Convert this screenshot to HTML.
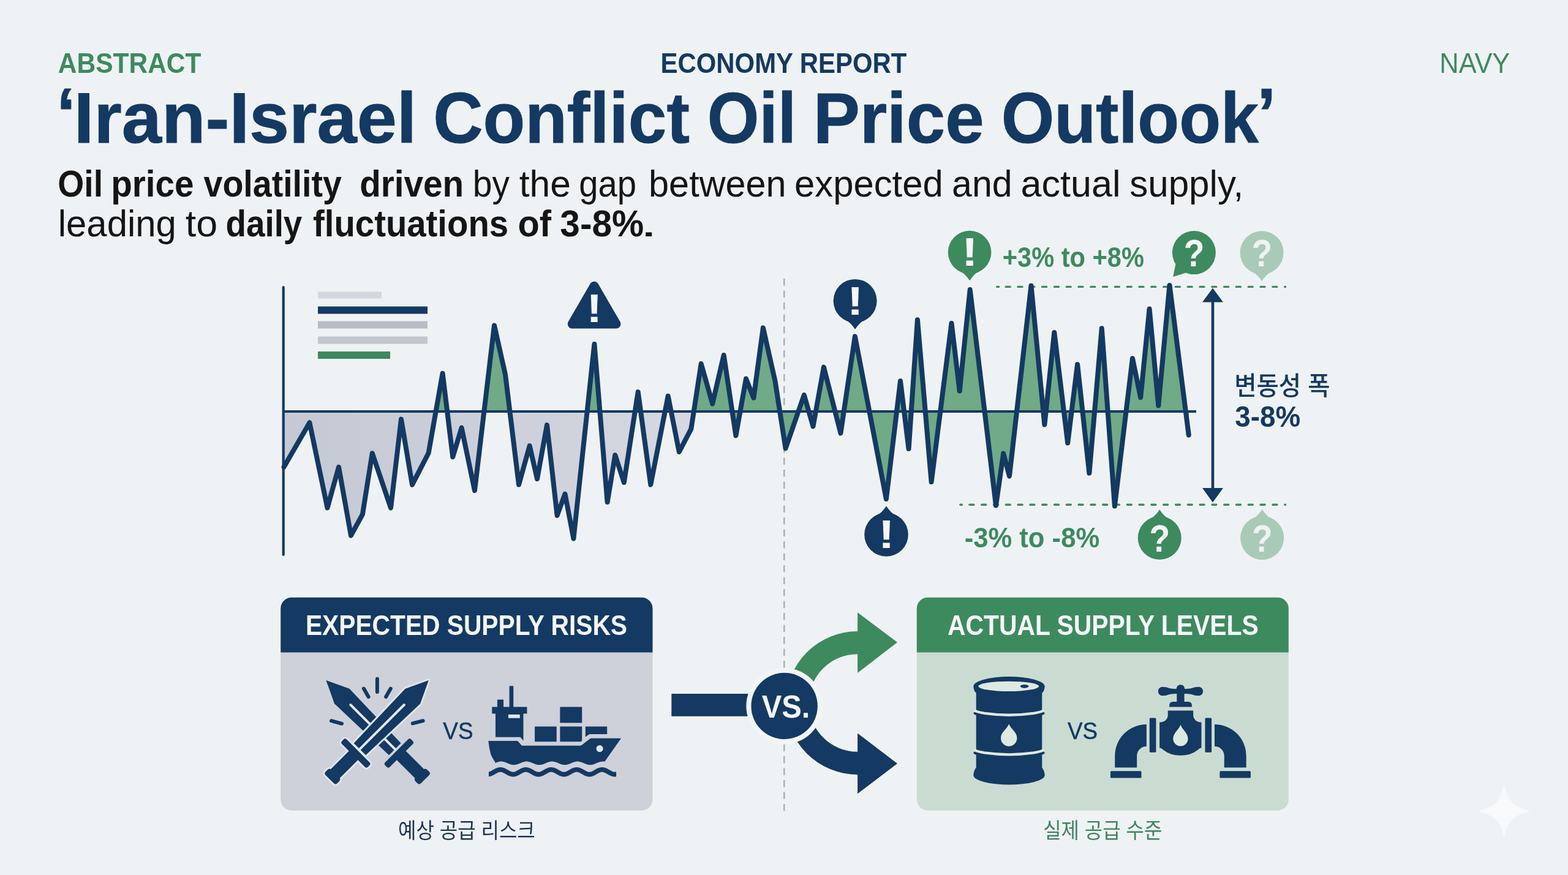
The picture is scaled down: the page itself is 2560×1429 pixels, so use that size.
<!DOCTYPE html>
<html lang="en">
<head>
<meta charset="utf-8">
<title>Iran-Israel Conflict Oil Price Outlook</title>
<style>
html,body{margin:0;padding:0;background:#eff2f4;}
body{width:2560px;height:1429px;overflow:hidden;font-family:"Liberation Sans","Noto Sans CJK KR",sans-serif;}
svg{display:block;position:absolute;left:0;top:0;}
text{font-family:"Liberation Sans","Noto Sans CJK KR",sans-serif;white-space:pre;}
.kr{font-family:"Liberation Sans","Noto Sans CJK KR","NanumGothic",sans-serif;}
</style>
</head>
<body>
<svg width="2560" height="1429" viewBox="0 0 2560 1429">
<defs>
<clipPath id="cGray"><rect x="455" y="672" width="680" height="260"/></clipPath>
<clipPath id="cGreen"><path d="M455,440 H1960 V900 H1135 V672 H455 Z"/></clipPath>
<linearGradient id="gGray" gradientUnits="userSpaceOnUse" x1="462" y1="0" x2="1135" y2="0">
<stop offset="0" stop-color="#c5c9d4"/><stop offset="0.55" stop-color="#cdd0da"/><stop offset="1" stop-color="#d6d9e1"/>
</linearGradient>
</defs>
<rect width="2560" height="1429" fill="#eff2f4"/>

<g id="header">
<text x="94.85" y="118.7" font-size="47" font-weight="700" fill="#3d8a5f" textLength="233.59" lengthAdjust="spacingAndGlyphs">ABSTRACT</text>
<text x="1078.55" y="118.5" font-size="46.5" font-weight="700" fill="#143962" textLength="401.85" lengthAdjust="spacingAndGlyphs">ECONOMY REPORT</text>
<text x="2350.37" y="118.5" font-size="46.5" font-weight="400" fill="#3d8a5f" textLength="114.94" lengthAdjust="spacingAndGlyphs">NAVY</text>
<text font-size="117" fill="#143962" stroke="#143962" stroke-width="1" stroke-linejoin="round"><tspan x="92.25" y="226" font-weight="700" textLength="31.5" lengthAdjust="spacingAndGlyphs">‘</tspan><tspan x="120.75" y="233" font-weight="700" textLength="559.55" lengthAdjust="spacingAndGlyphs">Iran-Israel</tspan> <tspan x="707.19" y="233" font-weight="700" textLength="418.69" lengthAdjust="spacingAndGlyphs">Conflict</tspan> <tspan x="1154.85" y="233" font-weight="700" textLength="145.12" lengthAdjust="spacingAndGlyphs">Oil</tspan> <tspan x="1327.7" y="233" font-weight="700" textLength="278.91" lengthAdjust="spacingAndGlyphs">Price</tspan> <tspan x="1634.75" y="233" font-weight="700" textLength="420.21" lengthAdjust="spacingAndGlyphs">Outlook</tspan><tspan x="2052.35" y="226" font-weight="700" textLength="31.08" lengthAdjust="spacingAndGlyphs">’</tspan></text>
<text font-size="60.5" fill="#151515"><tspan x="94.26" y="321.25" font-weight="700" textLength="73.78" lengthAdjust="spacingAndGlyphs">Oil</tspan> <tspan x="181.26" y="321.25" font-weight="700" textLength="135.25" lengthAdjust="spacingAndGlyphs">price</tspan> <tspan x="332.5" y="321.25" font-weight="700" textLength="225.4" lengthAdjust="spacingAndGlyphs">volatility</tspan> <tspan x="587.19" y="321.25" font-weight="700" textLength="169.89" lengthAdjust="spacingAndGlyphs">driven</tspan> <tspan x="771.73" y="321.25" font-weight="400" textLength="60.18" lengthAdjust="spacingAndGlyphs">by</tspan> <tspan x="847.75" y="321.25" font-weight="400" textLength="84.11" lengthAdjust="spacingAndGlyphs">the</tspan> <tspan x="945.21" y="321.25" font-weight="400" textLength="93.78" lengthAdjust="spacingAndGlyphs">gap</tspan> <tspan x="1059.07" y="321.25" font-weight="400" textLength="224.61" lengthAdjust="spacingAndGlyphs">between</tspan> <tspan x="1297.03" y="321.25" font-weight="400" textLength="242.72" lengthAdjust="spacingAndGlyphs">expected</tspan> <tspan x="1554.07" y="321.25" font-weight="400" textLength="98.54" lengthAdjust="spacingAndGlyphs">and</tspan> <tspan x="1666.47" y="321.25" font-weight="400" textLength="163.03" lengthAdjust="spacingAndGlyphs">actual</tspan> <tspan x="1844.26" y="321.25" font-weight="400" textLength="185.9" lengthAdjust="spacingAndGlyphs">supply,</tspan></text>
<text font-size="60.5" fill="#151515"><tspan x="94.79" y="386.25" font-weight="400" textLength="193.04" lengthAdjust="spacingAndGlyphs">leading</tspan> <tspan x="302.71" y="386.25" font-weight="400" textLength="52.35" lengthAdjust="spacingAndGlyphs">to</tspan> <tspan x="368.54" y="386.25" font-weight="700" textLength="124.76" lengthAdjust="spacingAndGlyphs">daily</tspan> <tspan x="511.07" y="386.25" font-weight="700" textLength="319.06" lengthAdjust="spacingAndGlyphs">fluctuations</tspan> <tspan x="845.59" y="386.25" font-weight="700" textLength="54.51" lengthAdjust="spacingAndGlyphs">of</tspan> <tspan x="914.31" y="386.25" font-weight="700" textLength="136.9" lengthAdjust="spacingAndGlyphs">3-8%</tspan><tspan x="1044.5" y="386.25" font-weight="400" textLength="29.42" lengthAdjust="spacingAndGlyphs">.</tspan></text>
</g>
<g id="chart">
<line x1="1280.3" y1="455" x2="1280.3" y2="1325" stroke="#a8abad" stroke-width="2.3" stroke-dasharray="11.5 8"/>
<rect x="519" y="476.5" width="104" height="11" fill="#d3d6dc"/>
<rect x="519" y="500.5" width="179" height="12" fill="#143962"/>
<rect x="519" y="524.5" width="179" height="12" fill="#b7bbc6"/>
<rect x="519" y="549.5" width="179" height="12" fill="#c3c6cf"/>
<rect x="519" y="574" width="118" height="12" fill="#3d8a5f"/>
<path d="M463.5,672 L463.5,762.7 L505.4,690.3 L534.5,829.4 L553.0,762.8 L573.0,874.6 L591.9,840.0 L607.8,740.2 L638.0,829.4 L655.0,684.6 L673.0,791.6 L699.6,740.0 L722.6,609.8 L739.2,746.3 L753.6,698.6 L775.0,801.1 L807.0,531.4 L825.0,611.6 L847.0,791.6 L864.7,728.1 L877.0,782.2 L893.0,694.1 L909.6,841.9 L922.5,806.7 L936.4,879.6 L970.4,561.9 L991.6,820.0 L1004.3,743.2 L1018.8,787.9 L1041.7,640.1 L1062.3,791.6 L1090.7,646.8 L1108.8,738.0 L1128.4,700.3 L1144.7,594.0 L1163.2,659.4 L1181.7,580.0 L1201.4,711.5 L1218.0,618.5 L1230.4,649.9 L1245.9,535.4 L1265.6,622.9 L1282.6,732.3 L1312.8,645.0 L1327.5,696.4 L1344.9,599.6 L1372.5,707.4 L1395.9,549.4 L1446.9,815.0 L1470.0,622.3 L1483.6,733.1 L1497.9,522.2 L1520.6,787.1 L1553.5,527.9 L1566.7,638.6 L1583.7,473.1 L1626.0,825.6 L1638.2,740.5 L1648.0,777.6 L1683.5,466.6 L1705.4,693.4 L1721.3,543.0 L1743.2,723.6 L1759.1,595.1 L1778.4,772.7 L1798.8,536.2 L1819.9,826.4 L1849.0,585.3 L1862.2,649.2 L1876.6,504.4 L1891.3,662.4 L1909.5,465.9 L1940.8,710.5 L1940.8,672 Z" fill="url(#gGray)" clip-path="url(#cGray)"/>
<path d="M463.5,672 L463.5,762.7 L505.4,690.3 L534.5,829.4 L553.0,762.8 L573.0,874.6 L591.9,840.0 L607.8,740.2 L638.0,829.4 L655.0,684.6 L673.0,791.6 L699.6,740.0 L722.6,609.8 L739.2,746.3 L753.6,698.6 L775.0,801.1 L807.0,531.4 L825.0,611.6 L847.0,791.6 L864.7,728.1 L877.0,782.2 L893.0,694.1 L909.6,841.9 L922.5,806.7 L936.4,879.6 L970.4,561.9 L991.6,820.0 L1004.3,743.2 L1018.8,787.9 L1041.7,640.1 L1062.3,791.6 L1090.7,646.8 L1108.8,738.0 L1128.4,700.3 L1144.7,594.0 L1163.2,659.4 L1181.7,580.0 L1201.4,711.5 L1218.0,618.5 L1230.4,649.9 L1245.9,535.4 L1265.6,622.9 L1282.6,732.3 L1312.8,645.0 L1327.5,696.4 L1344.9,599.6 L1372.5,707.4 L1395.9,549.4 L1446.9,815.0 L1470.0,622.3 L1483.6,733.1 L1497.9,522.2 L1520.6,787.1 L1553.5,527.9 L1566.7,638.6 L1583.7,473.1 L1626.0,825.6 L1638.2,740.5 L1648.0,777.6 L1683.5,466.6 L1705.4,693.4 L1721.3,543.0 L1743.2,723.6 L1759.1,595.1 L1778.4,772.7 L1798.8,536.2 L1819.9,826.4 L1849.0,585.3 L1862.2,649.2 L1876.6,504.4 L1891.3,662.4 L1909.5,465.9 L1940.8,710.5 L1940.8,672 Z" fill="#71aa87" clip-path="url(#cGreen)"/>
<g stroke="#3d8a5f" stroke-width="3.4" stroke-linecap="round" fill="none">
<path d="M1627.8,468.4 H1630.6 M1567.8,824.3 H1570.4"/>
<path d="M1642.2,468.4 H2098.6" stroke-dasharray="7 12.8"/>
<path d="M1582.9,824.3 H2098.6" stroke-dasharray="7 12.8"/>
</g>
<line x1="462.7" y1="469" x2="462.7" y2="906" stroke="#143962" stroke-width="4.2" stroke-linecap="round"/>
<line x1="462.7" y1="672" x2="1953" y2="672" stroke="#143962" stroke-width="4" />
<polyline points="463.5,762.7 505.4,690.3 534.5,829.4 553.0,762.8 573.0,874.6 591.9,840.0 607.8,740.2 638.0,829.4 655.0,684.6 673.0,791.6 699.6,740.0 722.6,609.8 739.2,746.3 753.6,698.6 775.0,801.1 807.0,531.4 825.0,611.6 847.0,791.6 864.7,728.1 877.0,782.2 893.0,694.1 909.6,841.9 922.5,806.7 936.4,879.6 970.4,561.9 991.6,820.0 1004.3,743.2 1018.8,787.9 1041.7,640.1 1062.3,791.6 1090.7,646.8 1108.8,738.0 1128.4,700.3 1144.7,594.0 1163.2,659.4 1181.7,580.0 1201.4,711.5 1218.0,618.5 1230.4,649.9 1245.9,535.4 1265.6,622.9 1282.6,732.3 1312.8,645.0 1327.5,696.4 1344.9,599.6 1372.5,707.4 1395.9,549.4 1446.9,815.0 1470.0,622.3 1483.6,733.1 1497.9,522.2 1520.6,787.1 1553.5,527.9 1566.7,638.6 1583.7,473.1 1626.0,825.6 1638.2,740.5 1648.0,777.6 1683.5,466.6 1705.4,693.4 1721.3,543.0 1743.2,723.6 1759.1,595.1 1778.4,772.7 1798.8,536.2 1819.9,826.4 1849.0,585.3 1862.2,649.2 1876.6,504.4 1891.3,662.4 1909.5,465.9 1940.8,710.5" fill="none" stroke="#143962" stroke-width="8" stroke-linejoin="round" stroke-linecap="round"/>
<line x1="1980" y1="490" x2="1980" y2="800" stroke="#143962" stroke-width="4.6"/>
<path d="M1980,470.5 L1997,493.5 H1963 Z M1980,820.5 L1997,797 H1963 Z" fill="#143962"/>
</g>
<g id="markers">
<path d="M970.1,467.2 L1005.9,529.1 H934.3 Z" fill="#143962" stroke="#143962" stroke-width="15" stroke-linejoin="round"/>
<text x="957.5" y="525.6" font-size="64" font-weight="700" fill="#f4f6f7" textLength="25.57" lengthAdjust="spacingAndGlyphs">!</text>
<g><path d="M1381.1,522.9 Q1388.1,525.9 1396.1,537.7 Q1404.1,525.9 1411.1,522.9 Z" fill="#143962"/><circle cx="1396.1" cy="491.4" r="35.5" fill="#143962"/><text x="1383.03" y="513.7" font-size="64" font-weight="700" fill="#f4f6f7" textLength="26.52" lengthAdjust="spacingAndGlyphs">!</text></g>
<g><path d="M1432.0,841.2 Q1439.0,838.2 1447.0,826.4 Q1455.0,838.2 1462.0,841.2 Z" fill="#143962"/><circle cx="1447" cy="873" r="35.8" fill="#143962"/><text x="1433.93" y="895.3" font-size="64" font-weight="700" fill="#f4f6f7" textLength="26.52" lengthAdjust="spacingAndGlyphs">!</text></g>
<g><path d="M1568.1,443.4 Q1575.1,446.4 1583.1,458.2 Q1591.1,446.4 1598.1,443.4 Z" fill="#3d8a5f"/><circle cx="1583.1" cy="412.1" r="35.3" fill="#3d8a5f"/><text x="1570.03" y="434.4" font-size="64" font-weight="700" fill="#f4f6f7" textLength="26.52" lengthAdjust="spacingAndGlyphs">!</text></g>
<g><path d="M1919.9,431.6 L1915.8,451.4 L1935.4,445.2 Z" fill="#3d8a5f" stroke="#3d8a5f" stroke-width="1" stroke-linejoin="round"/><circle cx="1949.4" cy="412.6" r="35.5" fill="#3d8a5f"/><text x="1932.79" y="435.0" font-size="63.5" font-weight="700" fill="#f4f6f7" textLength="33.7" lengthAdjust="spacingAndGlyphs">?</text></g>
<g><path d="M2045.1,444.2 Q2052.1,447.2 2060.1,459.0 Q2068.1,447.2 2075.1,444.2 Z" fill="#a9cab7"/><circle cx="2060.1" cy="412.7" r="35.5" fill="#a9cab7"/><text x="2043.49" y="435.1" font-size="63.5" font-weight="700" fill="#eef2f1" textLength="33.7" lengthAdjust="spacingAndGlyphs">?</text></g>
<g><path d="M1878.2,847.0 Q1885.2,844.0 1893.2,832.2 Q1901.2,844.0 1908.2,847.0 Z" fill="#3d8a5f"/><circle cx="1893.2" cy="878.5" r="35.5" fill="#3d8a5f"/><text x="1876.59" y="900.9" font-size="63.5" font-weight="700" fill="#f4f6f7" textLength="33.7" lengthAdjust="spacingAndGlyphs">?</text></g>
<g><path d="M2045.6,846.9 Q2052.6,843.9 2060.6,832.1 Q2068.6,843.9 2075.6,846.9 Z" fill="#a9cab7"/><circle cx="2060.6" cy="878.5" r="35.6" fill="#a9cab7"/><text x="2043.99" y="900.9" font-size="63.5" font-weight="700" fill="#eef2f1" textLength="33.7" lengthAdjust="spacingAndGlyphs">?</text></g>
<text x="1636.83" y="436.4" font-size="47" font-weight="700" fill="#3d8a5f" textLength="231.06" lengthAdjust="spacingAndGlyphs">+3% to +8%</text>
<text x="1574.64" y="893.7" font-size="47" font-weight="700" fill="#3d8a5f" textLength="220.58" lengthAdjust="spacingAndGlyphs">-3% to -8%</text>
<text class="kr" x="2015.14" y="645.2" font-size="42" font-weight="500" fill="#143962" textLength="156.36" lengthAdjust="spacingAndGlyphs">변동성 폭</text>
<text x="2016.37" y="696.9" font-size="49" font-weight="700" fill="#143962" textLength="106.93" lengthAdjust="spacingAndGlyphs">3-8%</text>
</g>
<g id="cards">
<path d="M458.2,1064.5 H1065.5 V1305.7 A18,18 0 0 1 1047.5,1323.7 H476.2 A18,18 0 0 1 458.2,1305.7 Z" fill="#ced1d9"/><path d="M458.2,1065.5 V993.7 A18,18 0 0 1 476.2,975.7 H1047.5 A18,18 0 0 1 1065.5,993.7 V1065.5 Z" fill="#143962"/>
<path d="M1496.8,1064.5 H2103.8 V1305.7 A18,18 0 0 1 2085.8,1323.7 H1514.8 A18,18 0 0 1 1496.8,1305.7 Z" fill="#cadcd2"/><path d="M1496.8,1065.5 V993.7 A18,18 0 0 1 1514.8,975.7 H2085.8 A18,18 0 0 1 2103.8,993.7 V1065.5 Z" fill="#3d8a5f"/>
<text x="498.94" y="1036.7" font-size="46" font-weight="700" fill="#f4f6f7" textLength="525.11" lengthAdjust="spacingAndGlyphs">EXPECTED SUPPLY RISKS</text>
<text x="1546.91" y="1036.7" font-size="46" font-weight="700" fill="#f4f6f7" textLength="507.93" lengthAdjust="spacingAndGlyphs">ACTUAL SUPPLY LEVELS</text>
<text class="kr" x="650.07" y="1369.4" font-size="35" font-weight="400" fill="#1c3358" textLength="223.73" lengthAdjust="spacingAndGlyphs">예상 공급 리스크</text>
<text class="kr" x="1703.17" y="1369.4" font-size="35" font-weight="400" fill="#3c8560" textLength="194.24" lengthAdjust="spacingAndGlyphs">실제 공급 수준</text>
<text x="723.3" y="1206.8" font-size="39.2" font-weight="400" fill="#143962" textLength="49.21" lengthAdjust="spacingAndGlyphs" stroke="#143962" stroke-width="0.5">VS</text>
<text x="1743.0" y="1206.8" font-size="39.2" font-weight="400" fill="#143962" textLength="49.0" lengthAdjust="spacingAndGlyphs" stroke="#143962" stroke-width="0.5">VS</text>
</g>
<g id="versus">
<rect x="1096.3" y="1133" width="140" height="36.8" fill="#143962"/>
<path d="M1283.1,1148 A117,117 0 0 1 1400.1,1031 V1000.2 L1465,1049 L1400.1,1098.9 V1068.3 A79.7,79.7 0 0 0 1320.4,1148 Z" fill="#3d8a5f"/>
<path d="M1283.1,1148 A117,117 0 0 0 1400.1,1265 V1296.3 L1465,1247 L1400.1,1197.6 V1227.7 A79.7,79.7 0 0 1 1320.4,1148 Z" fill="#143962"/>
<circle cx="1280.6" cy="1153" r="62.3" fill="#f2f5f6"/>
<circle cx="1280.6" cy="1153" r="54.2" fill="#143962"/>
<text x="1243.64" y="1172.4" font-size="51" font-weight="700" fill="#f4f6f7" textLength="78.62" lengthAdjust="spacingAndGlyphs">VS.</text>
</g>
<path d="M2455.8,1280 C2461,1308 2472,1319.5 2500.3,1324.8 C2472,1330 2461,1341.5 2455.8,1369.6 C2450.5,1341.5 2439.5,1330 2411.3,1324.8 C2439.5,1319.5 2450.5,1308 2455.8,1280 Z" fill="#f7f9fa"/>
<g id="swords"><g transform="translate(650.8,1229.5) rotate(-45)"><g fill="#143962"><path d="M-13.8,-8.5 L-17.3,-130.8 L0,-167.5 L17.3,-130.8 L13.8,-8.5 Z"/><rect x="-30" y="-4.6" width="60" height="10.8" rx="3.6"/><path d="M-10.4,3 V48 Q-13.5,49 -13.5,53 V57 Q-13.5,61 -9.5,61 H9.5 Q13.5,61 13.5,57 V53 Q13.5,49 10.4,48 V3 Z"/></g><path d="M0,-7.5 V-111" stroke="#e3e6ec" stroke-width="4" stroke-linecap="round" fill="none"/></g><g transform="translate(581.4,1229.5) rotate(45)"><g fill="#e3e6ec" stroke="#e3e6ec" stroke-width="5.6" stroke-linejoin="round"><path d="M-13.8,-8.5 L-17.3,-130.8 L0,-167.5 L17.3,-130.8 L13.8,-8.5 Z"/><rect x="-30" y="-4.6" width="60" height="10.8" rx="3.6"/><path d="M-10.4,3 V48 Q-13.5,49 -13.5,53 V57 Q-13.5,61 -9.5,61 H9.5 Q13.5,61 13.5,57 V53 Q13.5,49 10.4,48 V3 Z"/></g><g fill="#143962"><path d="M-13.8,-8.5 L-17.3,-130.8 L0,-167.5 L17.3,-130.8 L13.8,-8.5 Z"/><rect x="-30" y="-4.6" width="60" height="10.8" rx="3.6"/><path d="M-10.4,3 V48 Q-13.5,49 -13.5,53 V57 Q-13.5,61 -9.5,61 H9.5 Q13.5,61 13.5,57 V53 Q13.5,49 10.4,48 V3 Z"/></g><path d="M0,-7.5 V-111" stroke="#e3e6ec" stroke-width="4" stroke-linecap="round" fill="none"/></g><g stroke="#143962" stroke-width="6" stroke-linecap="round" fill="none"><line x1="615.9" y1="1108.8" x2="615.9" y2="1130"/><line x1="593.9" y1="1124.6" x2="601.6" y2="1138"/><line x1="637.8" y1="1124.6" x2="630.1" y2="1138"/><line x1="541" y1="1177.2" x2="558" y2="1181.8"/><line x1="690.6" y1="1177.2" x2="673.8" y2="1181.4"/></g></g>
<g id="ship" transform="translate(780,1100) scale(0.13298)"><clipPath id="cWave"><rect x="135" y="1100" width="1565" height="220"/></clipPath><g fill="#143962"><rect x="388" y="152" width="50" height="270" rx="6"/><rect x="240" y="320" width="76" height="100" rx="6"/><rect x="175" y="410" width="430" height="83" rx="4"/><path d="M218,480 H560 V826 L522,780 H218 Z"/><rect x="1010" y="410" width="270" height="196" rx="4"/><rect x="700" y="650" width="268" height="186" rx="4"/><path d="M1010,650 H1280 V820 Q1278,836 1262,836 H1010 Z"/><path d="M1322,650 H1588 V745 H1385 Q1368,745 1354,755 L1322,778 Z"/><path d="M130,828 H482 Q492,828 500,838 L532,876 Q540,885 552,885 H1255 Q1268,885 1280,876 L1372,804 Q1384,795 1398,795 H1760 L1560,1080 L1560,1082 L1552,1081 L1544,1080 L1536,1080 L1528,1080 L1520,1081 L1512,1082 L1504,1084 L1496,1086 L1488,1089 L1480,1092 L1472,1095 L1464,1098 L1456,1102 L1448,1105 L1440,1108 L1432,1112 L1424,1114 L1416,1117 L1408,1119 L1400,1120 L1392,1121 L1384,1122 L1376,1122 L1368,1121 L1360,1120 L1352,1119 L1344,1117 L1336,1114 L1328,1111 L1320,1108 L1312,1105 L1304,1102 L1296,1098 L1288,1095 L1280,1092 L1272,1089 L1264,1086 L1256,1084 L1248,1082 L1240,1081 L1232,1080 L1224,1080 L1216,1080 L1208,1081 L1200,1082 L1192,1084 L1184,1087 L1176,1089 L1168,1092 L1160,1095 L1152,1099 L1144,1102 L1136,1105 L1128,1109 L1120,1112 L1112,1114 L1104,1117 L1096,1119 L1088,1120 L1080,1121 L1072,1122 L1064,1122 L1056,1121 L1048,1120 L1040,1119 L1032,1117 L1024,1114 L1016,1111 L1008,1108 L1000,1105 L992,1102 L984,1098 L976,1095 L968,1092 L960,1089 L952,1086 L944,1084 L936,1082 L928,1081 L920,1080 L912,1080 L904,1080 L896,1081 L888,1083 L879,1084 L871,1087 L863,1089 L855,1092 L847,1095 L839,1099 L831,1102 L823,1105 L815,1109 L807,1112 L799,1114 L791,1117 L783,1119 L775,1120 L767,1121 L759,1122 L751,1122 L743,1121 L735,1120 L727,1119 L719,1117 L711,1114 L703,1111 L695,1108 L687,1105 L679,1102 L671,1098 L663,1095 L655,1092 L647,1089 L639,1086 L631,1084 L623,1082 L615,1081 L607,1080 L599,1080 L591,1080 L583,1081 L575,1083 L567,1084 L559,1087 L551,1089 L543,1092 L535,1095 L527,1099 L519,1102 L511,1106 L503,1109 L495,1112 L487,1115 L479,1117 L471,1119 L463,1120 L455,1121 L447,1122 L439,1122 L431,1121 L423,1120 L415,1119 L407,1116 L399,1114 L391,1111 L383,1108 L375,1105 L367,1101 L359,1098 L351,1095 L343,1092 L335,1089 L327,1086 L319,1084 L311,1082 L303,1081 L295,1080 L287,1080 L279,1080 L271,1081 L263,1083 L255,1084 L247,1087 L239,1089 L231,1092 L223,1096 L215,1099 L215,1090 Q175,1030 160,990 Q140,920 130,828 Z"/><path d="M95,1233.8 L103,1235.9 L111,1237.3 L119,1237.9 L127,1237.8 L135,1237.0 L143,1235.4 L151,1233.1 L159,1230.2 L167,1226.8 L175,1222.9 L183,1218.6 L191,1214.1 L199,1209.4 L207,1204.7 L215,1200.2 L223,1195.8 L231,1191.9 L239,1188.3 L247,1185.3 L255,1182.9 L264,1181.2 L272,1180.2 L280,1180.0 L288,1180.5 L296,1181.8 L304,1183.8 L312,1186.4 L320,1189.6 L328,1193.4 L336,1197.5 L344,1201.9 L352,1206.5 L360,1211.2 L368,1215.8 L376,1220.3 L384,1224.4 L392,1228.2 L400,1231.4 L408,1234.1 L416,1236.1 L424,1237.4 L432,1238.0 L440,1237.8 L448,1236.8 L456,1235.2 L464,1232.8 L472,1229.9 L480,1226.3 L488,1222.4 L496,1218.1 L504,1213.5 L512,1208.8 L520,1204.2 L528,1199.6 L536,1195.3 L544,1191.4 L552,1187.9 L560,1185.0 L568,1182.7 L576,1181.1 L584,1180.2 L593,1180.0 L601,1180.7 L609,1182.0 L617,1184.1 L625,1186.8 L633,1190.0 L641,1193.8 L649,1198.0 L657,1202.5 L665,1207.1 L673,1211.8 L681,1216.4 L689,1220.8 L697,1224.9 L705,1228.6 L713,1231.8 L721,1234.4 L729,1236.3 L737,1237.5 L745,1238.0 L753,1237.7 L761,1236.7 L769,1234.9 L777,1232.5 L785,1229.5 L793,1225.9 L801,1221.9 L809,1217.5 L817,1213.0 L825,1208.3 L833,1203.6 L841,1199.1 L849,1194.9 L857,1191.0 L865,1187.6 L873,1184.7 L881,1182.5 L889,1180.9 L897,1180.1 L905,1180.1 L913,1180.8 L922,1182.2 L930,1184.3 L938,1187.1 L946,1190.5 L954,1194.3 L962,1198.5 L970,1203.0 L978,1207.6 L986,1212.3 L994,1216.9 L1002,1221.3 L1010,1225.4 L1018,1229.0 L1026,1232.1 L1034,1234.6 L1042,1236.5 L1050,1237.6 L1058,1238.0 L1066,1237.6 L1074,1236.5 L1082,1234.7 L1090,1232.2 L1098,1229.1 L1106,1225.4 L1114,1221.4 L1122,1217.0 L1130,1212.4 L1138,1207.7 L1146,1203.1 L1154,1198.6 L1162,1194.4 L1170,1190.5 L1178,1187.2 L1186,1184.4 L1194,1182.2 L1202,1180.8 L1210,1180.1 L1218,1180.1 L1226,1180.9 L1234,1182.4 L1242,1184.6 L1251,1187.5 L1259,1190.9 L1267,1194.8 L1275,1199.0 L1283,1203.5 L1291,1208.2 L1299,1212.9 L1307,1217.5 L1315,1221.8 L1323,1225.8 L1331,1229.4 L1339,1232.5 L1347,1234.9 L1355,1236.7 L1363,1237.7 L1371,1238.0 L1379,1237.5 L1387,1236.3 L1395,1234.4 L1403,1231.8 L1411,1228.7 L1419,1225.0 L1427,1220.9 L1435,1216.5 L1443,1211.9 L1451,1207.2 L1459,1202.5 L1467,1198.1 L1475,1193.9 L1483,1190.1 L1491,1186.8 L1499,1184.1 L1507,1182.0 L1515,1180.7 L1523,1180.0 L1531,1180.2 L1539,1181.0 L1547,1182.7 L1555,1184.9 L1563,1187.9 L1571,1191.3 L1580,1195.3 L1588,1199.6 L1596,1204.1 L1604,1208.8 L1612,1213.4 L1620,1218.0 L1628,1222.3 L1636,1226.3 L1644,1229.8 L1652,1232.8 L1660,1235.1 L1668,1236.8 L1676,1237.8 L1684,1238.0 L1692,1237.4 L1700,1236.1 L1708,1234.1 L1716,1231.5 L1724,1228.3 L1732,1224.5 L1740,1220.4" fill="none" stroke="#143962" stroke-width="58" stroke-linejoin="round" clip-path="url(#cWave)"/></g><rect x="375" y="503" width="142" height="44" fill="#e3e6ec"/><circle cx="1497" cy="922" r="42" fill="#e3e6ec"/></g>
<g id="barrel" transform="translate(1560,1090) scale(0.14343)"><g fill="#143962"><rect x="235" y="215" width="750" height="1015"/><ellipse cx="610" cy="215" rx="405" ry="110"/><path d="M205,215 Q205,270 235,290 H985 Q1015,270 1015,215 Z"/><ellipse cx="610" cy="1228" rx="405" ry="107"/><path d="M235,1140 Q205,1180 205,1228 H1015 Q1015,1180 985,1140 Z"/><ellipse cx="610" cy="522" rx="405" ry="62"/><ellipse cx="610" cy="972" rx="405" ry="62"/></g><g fill="none" stroke="#dde9e1" stroke-width="30"><path d="M214,490 Q240,507 330,522 Q610,562 890,522 Q980,507 1006,490"/><path d="M214,940 Q240,957 330,972 Q610,1012 890,972 Q980,957 1006,940"/></g><ellipse cx="605" cy="215" rx="345" ry="57" fill="#dde9e1"/><ellipse cx="785" cy="215" rx="48" ry="20" fill="#143962"/><path d="M608,645 C640.2,715.56 700.0,736.0 700.0,805.0 A92.0,92.0 0 0 1 516.0,805.0 C516.0,736.0 575.8,715.56 608,645 Z" fill="#dde9e1"/></g>
<g id="faucet" transform="translate(1795,1100) scale(0.13298)"><g fill="#143962"><path d="M775,163 Q820,163 860,180 Q900,190 945,188 Q950,140 996,138 Q1042,140 1047,188 Q1092,190 1132,180 Q1172,163 1217,163 A55,55 0 0 1 1217,273 Q1172,273 1132,256 Q1092,246 1042,248 V345 H950 V248 Q900,246 860,256 Q820,273 775,273 A55,55 0 0 1 775,163 Z"/><path d="M858,410 V392 Q858,345 905,345 H1088 Q1135,345 1135,392 V410 Z"/><path d="M840,455 H1152 V520 Q1160,590 1252,600 V912 Q1225,918 1205,940 Q1120,1006 996,1006 Q872,1006 787,940 Q767,918 738,912 V600 Q832,590 840,520 Z"/><rect x="615" y="545" width="80" height="424" rx="12"/><rect x="1297" y="545" width="80" height="424" rx="12"/><path d="M578,625 A388,385 0 0 0 190,1010 V1155 H460 V1010 A118,115 0 0 1 578,895 Z"/><path d="M1414,625 A388,385 0 0 1 1802,1010 V1155 H1532 V1010 A118,115 0 0 0 1414,895 Z"/><rect x="135" y="1198" width="380" height="84" rx="12"/><rect x="1477" y="1198" width="380" height="84" rx="12"/></g><path d="M996,630 C1027.85,703.36 1087.0,732.75 1087.0,801.0 A91.0,91.0 0 0 1 905.0,801.0 C905.0,732.75 964.15,703.36 996,630 Z" fill="#dde9e1"/></g>
</svg>
</body>
</html>
